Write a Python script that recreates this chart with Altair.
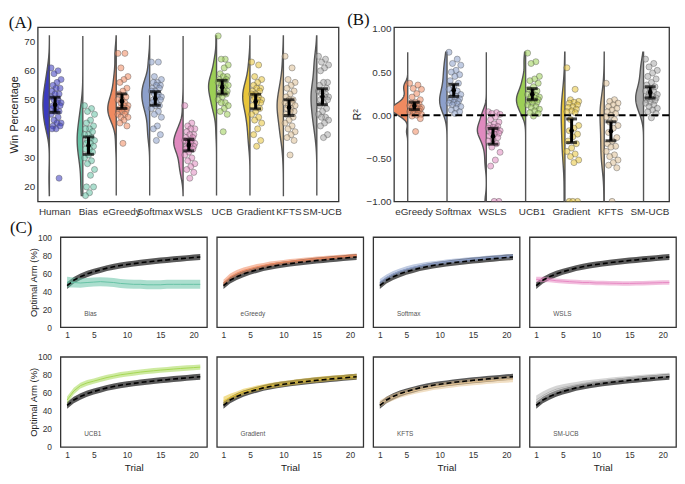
import altair as alt
import pandas as pd

# ---------------- Panel A data (Win Percentage) ----------------
models_a = ["Human", "Bias", "eGreedy", "Softmax", "WSLS", "UCB", "Gradient", "KFTS", "SM-UCB"]
colors_a = ["#3b3bbf", "#66c2a5", "#f08a60", "#8da0cb", "#e08abf", "#9ccf55", "#e8c53a", "#dcc096", "#a9a9a9"]

win_human = [61, 60, 59, 57, 56, 55, 54, 54, 53, 52, 52, 51, 50, 50, 49, 49, 48, 48, 47, 47, 46, 46, 45, 44, 43, 42, 42, 41, 41, 40, 40, 23]
win_bias = [48, 47, 46, 45, 43, 42, 41, 40, 40, 39, 38, 38, 37, 36, 36, 35, 35, 34, 33, 33, 32, 31, 30, 29, 28, 26, 24, 20, 20, 18, 17]
win_egreedy = [66, 66, 61, 58, 57, 56, 54, 53, 52, 51, 50, 50, 49, 49, 48, 48, 47, 47, 47, 46, 46, 46, 45, 45, 44, 44, 43, 42, 41, 35]
win_softmax = [63, 63, 58, 57, 56, 56, 55, 55, 54, 54, 53, 53, 52, 52, 51, 51, 50, 50, 49, 49, 48, 48, 47, 46, 45, 44, 41, 40, 38, 36]
win_wsls = [48, 42, 41, 40, 40, 39, 38, 38, 37, 37, 36, 36, 36, 35, 35, 35, 34, 34, 34, 33, 33, 32, 31, 30, 29, 28, 27, 26, 25, 23]
win_ucb = [72, 64, 64, 62, 61, 59, 58, 58, 57, 57, 56, 56, 55, 55, 55, 54, 54, 53, 53, 52, 52, 51, 50, 49, 49, 48, 47, 46, 45, 39]
win_gradient = [63, 62, 58, 57, 56, 55, 54, 54, 53, 53, 52, 52, 51, 51, 50, 50, 50, 49, 49, 48, 47, 46, 45, 44, 43, 42, 40, 38, 36, 34]
win_kfts = [65, 61, 57, 56, 55, 54, 53, 52, 51, 50, 50, 49, 49, 48, 48, 47, 47, 46, 46, 45, 44, 43, 42, 41, 40, 39, 38, 37, 36, 31]
win_smucb = [65, 64, 63, 62, 61, 60, 56, 56, 55, 54, 53, 53, 52, 52, 51, 51, 50, 50, 49, 48, 47, 46, 45, 44, 44, 43, 42, 41, 38, 37]
win_values = [win_human, win_bias, win_egreedy, win_softmax, win_wsls, win_ucb, win_gradient, win_kfts, win_smucb]

# ---------------- Panel B data (R^2) ----------------
models_b = ["eGreedy", "Softmax", "WSLS", "UCB1", "Gradient", "KFTS", "SM-UCB"]
colors_b = ["#f08a60", "#8da0cb", "#e08abf", "#9ccf55", "#e8c53a", "#dcc096", "#a9a9a9"]

r2_egreedy = [0.37, 0.35, 0.31, 0.30, 0.25, 0.21, 0.18, 0.15, 0.14, 0.13, 0.12, 0.11, 0.10, 0.10, 0.09, 0.08, 0.08, 0.07, 0.07, 0.06, 0.05, 0.05, 0.04, 0.03, 0.02, 0.01, 0.00, -0.01, -0.04, -0.19]
r2_softmax = [0.73, 0.65, 0.60, 0.58, 0.52, 0.50, 0.47, 0.45, 0.40, 0.37, 0.33, 0.30, 0.28, 0.26, 0.24, 0.22, 0.20, 0.19, 0.18, 0.17, 0.16, 0.15, 0.14, 0.13, 0.12, 0.10, 0.08, 0.06, 0.04, 0.02]
r2_wsls = [0.04, 0.03, 0.02, 0.01, -0.02, -0.05, -0.08, -0.10, -0.12, -0.13, -0.14, -0.15, -0.16, -0.17, -0.18, -0.19, -0.20, -0.21, -0.22, -0.24, -0.26, -0.28, -0.30, -0.33, -0.37, -0.43, -0.52, -0.59, -1.0, -1.0]
r2_ucb1 = [0.72, 0.62, 0.60, 0.45, 0.42, 0.40, 0.37, 0.33, 0.30, 0.28, 0.26, 0.24, 0.23, 0.22, 0.21, 0.20, 0.19, 0.18, 0.17, 0.16, 0.15, 0.14, 0.12, 0.10, 0.09, 0.07, 0.05, 0.03, 0.02, -0.01]
r2_gradient = [0.55, 0.30, 0.18, 0.16, 0.15, 0.14, 0.12, 0.10, 0.09, 0.07, 0.05, 0.04, 0.03, -0.05, -0.12, -0.15, -0.18, -0.22, -0.25, -0.30, -0.33, -0.38, -0.42, -0.45, -0.48, -0.52, -0.55, -1.0, -1.0, -1.0]
r2_kfts = [0.37, 0.18, 0.16, 0.14, 0.12, 0.10, 0.08, 0.06, 0.04, 0.02, 0.00, -0.02, -0.05, -0.08, -0.12, -0.15, -0.20, -0.26, -0.30, -0.33, -0.36, -0.37, -0.42, -0.46, -0.48, -0.52, -0.55, -0.58, -0.61, -1.0]
r2_smucb = [0.65, 0.60, 0.56, 0.52, 0.49, 0.45, 0.42, 0.38, 0.35, 0.33, 0.30, 0.28, 0.27, 0.25, 0.24, 0.22, 0.21, 0.20, 0.19, 0.18, 0.17, 0.15, 0.14, 0.12, 0.10, 0.08, 0.06, 0.04, 0.02, -0.03]
r2_values = [r2_egreedy, r2_softmax, r2_wsls, r2_ucb1, r2_gradient, r2_kfts, r2_smucb]

# ---------------- Panel C data (Optimal arm %) ----------------
trials = list(range(1, 22))
human_mean = [46, 52, 56, 59, 61.5, 63.5, 65.5, 67, 68.5, 69.5, 70.5, 71.5, 72.3, 73.1, 73.9, 74.6, 75.3, 76, 76.6, 77.2, 77.8]
human_err = [3.8, 3.7, 3.6, 3.5, 3.4, 3.3, 3.3, 3.3, 3.3, 3.3, 3.3, 3.3, 3.3, 3.3, 3.3, 3.3, 3.3, 3.3, 3.3, 3.3, 3.3]

curve_models = ["Bias", "eGreedy", "Softmax", "WSLS", "UCB1", "Gradient", "KFTS", "SM-UCB"]
curve_colors = ["#66c2a5", "#f08a60", "#8da0cb", "#e78ac3", "#a6d854", "#e8c53a", "#e5c494", "#b3b3b3"]

bias_mean = [50, 49.5, 49, 49.5, 50, 50.5, 50, 49.5, 48.5, 48, 47.5, 47.5, 47, 47, 47, 47.5, 47.5, 47.5, 47.5, 47.5, 47.5]
bias_err = [6, 5.5, 5.2, 5, 5, 5, 5, 5, 5, 5, 5, 5, 5, 5, 5, 5, 5, 5, 5, 5, 5]
egreedy_mean = [49, 56, 60, 63, 65, 67, 68.5, 70, 71, 72, 73, 73.8, 74.5, 75.2, 76, 76.6, 77.2, 77.8, 78.4, 79, 79.5]
egreedy_err = [3.6, 3.5, 3.3, 3.2, 3.0, 3.0, 2.8, 2.8, 2.7, 2.6, 2.6, 2.5, 2.5, 2.5, 2.4, 2.4, 2.4, 2.3, 2.3, 2.3, 2.3]
softmax_mean = [50, 55, 59, 62, 64.5, 66.5, 68, 69.5, 70.5, 71.5, 72.5, 73.3, 74, 74.8, 75.5, 76.2, 76.8, 77.4, 78, 78.5, 79]
softmax_err = [3.5, 3.4, 3.2, 3.1, 3.0, 2.9, 2.8, 2.7, 2.6, 2.6, 2.5, 2.5, 2.4, 2.4, 2.4, 2.3, 2.3, 2.3, 2.3, 2.3, 2.3]
wsls_mean = [53, 53, 52.5, 51.5, 51, 50.5, 50, 49.5, 49.5, 49, 49, 48.8, 48.6, 48.5, 48.5, 48.6, 48.8, 49, 49.2, 49.4, 49.5]
wsls_err = [3.0, 2.8, 2.6, 2.5, 2.5, 2.5, 2.5, 2.5, 2.5, 2.5, 2.5, 2.5, 2.5, 2.5, 2.5, 2.5, 2.5, 2.5, 2.5, 2.5, 2.5]
ucb1_mean = [52, 62, 68, 71, 73, 75, 77, 78.5, 80, 81, 82, 83, 83.8, 84.5, 85.2, 85.8, 86.4, 87, 87.5, 88, 88.5]
ucb1_err = [4.0, 3.6, 3.3, 3.2, 3.0, 3.0, 3.0, 3.0, 3.0, 3.0, 3.0, 3.0, 3.0, 3.0, 3.0, 3.0, 3.0, 3.0, 3.0, 3.0, 3.0]
gradient_mean = [51, 55, 58, 61, 63, 65, 66.5, 68, 69, 70, 71, 72, 73, 73.8, 74.6, 75.3, 76, 76.6, 77.2, 77.7, 78.2]
gradient_err = [4.5, 4.0, 3.6, 3.4, 3.2, 3.0, 3.0, 3.0, 3.0, 3.0, 3.0, 3.0, 3.0, 3.0, 3.0, 3.0, 3.0, 3.0, 3.0, 3.0, 3.0]
kfts_mean = [48, 52, 55, 58, 60, 62, 63.5, 65, 66.5, 67.5, 68.5, 69.5, 70.5, 71.2, 72, 72.6, 73.2, 73.8, 74.3, 74.8, 75.2]
kfts_err = [3.8, 3.7, 3.6, 3.6, 3.5, 3.5, 3.5, 3.5, 3.5, 3.5, 3.5, 3.5, 3.5, 3.5, 3.5, 3.5, 3.5, 3.5, 3.5, 3.5, 3.5]
smucb_mean = [52, 57, 61, 64, 66, 67.5, 69, 70.3, 71.4, 72.4, 73.3, 74.1, 74.9, 75.6, 76.3, 77, 77.6, 78.2, 78.7, 79.2, 79.7]
smucb_err = [5.0, 4.6, 4.2, 3.8, 3.5, 3.3, 3.1, 3.0, 2.9, 2.8, 2.7, 2.6, 2.6, 2.5, 2.5, 2.5, 2.5, 2.5, 2.5, 2.5, 2.5]
curve_means = [bias_mean, egreedy_mean, softmax_mean, wsls_mean, ucb1_mean, gradient_mean, kfts_mean, smucb_mean]
curve_errs = [bias_err, egreedy_err, softmax_err, wsls_err, ucb1_err, gradient_err, kfts_err, smucb_err]

FONT = "Liberation Sans"
C_W, C_H = 148, 91


def raincloud(models, colors, values, ydomain, yticks, yformat, ytitle, kscale, xfont):
    rows = []
    for i, (m, vals) in enumerate(zip(models, values)):
        for j, v in enumerate(vals):
            rows.append({"model": m, "i": i, "j": j, "value": v, "color": colors[i]})
    df = pd.DataFrame(rows)
    n = len(models)
    names = "[" + ",".join("'%s'" % m for m in models) + "]"
    xscale = alt.Scale(domain=[-0.5, n - 0.5], nice=False, zero=False)
    xaxis = alt.Axis(values=list(range(n)), labelExpr=names + "[datum.value]", title=None,
                     labelFontSize=xfont, labelPadding=5, labelColor="#333", labelOverlap=False)
    yscale = alt.Scale(domain=ydomain, nice=False, zero=False)
    yaxis = alt.Axis(values=yticks, format=yformat, title=ytitle, labelFontSize=10,
                     titleFontSize=11, labelPadding=3, titlePadding=4, labelOverlap=False)
    base = alt.Chart(df)

    violin = base.transform_density(
        "value", groupby=["model", "i", "color"], as_=["value", "density"]
    ).transform_calculate(
        xl="datum.i - 0.15 - datum.density * %f" % kscale,
        xr="datum.i - 0.15",
    ).mark_area(orient="horizontal", stroke="#555", strokeWidth=1.4, clip=True).encode(
        y=alt.Y("value:Q", scale=yscale, axis=yaxis),
        x=alt.X("xl:Q", scale=xscale, axis=xaxis),
        x2="xr:Q",
        color=alt.Color("color:N", scale=None),
        detail="model:N",
    )

    pts = base.transform_calculate(
        xj="datum.i - 0.10 + 0.30 * (((datum.j * 7) % 11) / 10)"
    ).mark_circle(size=38, fillOpacity=0.55, stroke="#555", strokeWidth=0.6, strokeOpacity=0.7, clip=True).encode(
        x=alt.X("xj:Q", scale=xscale, axis=xaxis),
        y=alt.Y("value:Q", scale=yscale, axis=yaxis),
        fill=alt.Fill("color:N", scale=None),
    )

    agg = base.transform_aggregate(
        mean="mean(value)", sem="stderr(value)", groupby=["i"]
    ).transform_calculate(
        lo="datum.mean - 1.96 * datum.sem",
        hi="datum.mean + 1.96 * datum.sem",
        xe="datum.i + 0.02",
    )
    bar = agg.mark_rule(color="black", strokeWidth=3).encode(
        x=alt.X("xe:Q", scale=xscale, axis=xaxis),
        y=alt.Y("lo:Q", scale=yscale, axis=yaxis), y2="hi:Q")
    cap_lo = agg.mark_tick(color="black", orient="horizontal", size=11, thickness=3).encode(
        x=alt.X("xe:Q", scale=xscale, axis=xaxis), y=alt.Y("lo:Q", scale=yscale, axis=yaxis))
    cap_hi = agg.mark_tick(color="black", orient="horizontal", size=11, thickness=3).encode(
        x=alt.X("xe:Q", scale=xscale, axis=xaxis), y=alt.Y("hi:Q", scale=yscale, axis=yaxis))
    dot = agg.mark_circle(color="black", size=22, opacity=1).encode(
        x=alt.X("xe:Q", scale=xscale, axis=xaxis), y=alt.Y("mean:Q", scale=yscale, axis=yaxis))

    return [violin, pts, bar, cap_lo, cap_hi, dot]


layers_a = raincloud(models_a, colors_a, win_values, [15, 75],
                     [20, 30, 40, 50, 60, 70], "d", "Win Percentage", 3.8, 10)
chart_a = alt.layer(*layers_a).properties(
    width=304, height=176, title=alt.Title("(A)", anchor="start", offset=-5))

layers_b = raincloud(models_b, colors_b, r2_values, [-1.0, 1.02],
                     [-1.0, -0.75, -0.5, -0.25, 0.0, 0.25, 0.5, 0.75, 1.0], ".2f", "R²", 0.095, 10)
zero_line = alt.Chart(pd.DataFrame({"z": [0]})).mark_rule(
    color="black", strokeDash=[7, 4], strokeWidth=2).encode(y=alt.Y("z:Q"))
chart_b = alt.layer(*layers_b, zero_line).properties(
    width=278, height=176, title=alt.Title("(B)", anchor="start", offset=-5, dx=-4))

c_yscale = alt.Scale(domain=[0, 100], nice=False)


def curve_panel(idx, show_xtitle):
    name = curve_models[idx]
    color = curve_colors[idx]
    mean = curve_means[idx]
    err = curve_errs[idx]
    hdf = pd.DataFrame({"trial": trials, "mean": human_mean,
                        "lo": [m - e for m, e in zip(human_mean, human_err)],
                        "hi": [m + e for m, e in zip(human_mean, human_err)]})
    mdf = pd.DataFrame({"trial": trials, "mean": mean,
                        "lo": [m - e for m, e in zip(mean, err)],
                        "hi": [m + e for m, e in zip(mean, err)]})
    xscale = alt.Scale(domain=[0, 22], nice=False, zero=False)
    xaxis = alt.Axis(values=[1, 5, 10, 15, 20], title="Trial" if show_xtitle else None,
                     labelFontSize=8.5, titleFontSize=10, labelPadding=4, titlePadding=3)
    x = alt.X("trial:Q", scale=xscale, axis=xaxis)
    hb_ = alt.Chart(hdf).mark_area(color="#3d3d3d", opacity=0.85).encode(
        x=x, y=alt.Y("lo:Q", scale=c_yscale, axis=None), y2="hi:Q")
    mb = alt.Chart(mdf).mark_area(color=color, opacity=0.55).encode(
        x=x, y=alt.Y("lo:Q", scale=c_yscale, axis=None), y2="hi:Q")
    ml = alt.Chart(mdf).mark_line(color=color, strokeWidth=1).encode(
        x=x, y=alt.Y("mean:Q", scale=c_yscale, axis=None))
    hl = alt.Chart(hdf).mark_line(color="black", strokeWidth=1.6, strokeDash=[5, 3]).encode(
        x=x, y=alt.Y("mean:Q", scale=c_yscale, axis=None))
    lab = alt.Chart(pd.DataFrame({"t": [name]})).mark_text(
        align="left", baseline="middle", fontSize=6.5, font=FONT, color="#555").encode(
        x=alt.value(24), y=alt.value(C_H - 13), text="t:N")
    return alt.layer(hb_, mb, ml, hl, lab).properties(width=C_W, height=C_H)


def axis_holder():
    # narrow, frameless view that only carries the shared y axis of a row of panel C
    yaxis = alt.Axis(orient="right", values=[0, 20, 40, 60, 80, 100], title="Optimal Arm (%)",
                     labelAlign="right", labelPadding=13, labelFontSize=8.5,
                     titleFontSize=9.5, titleAngle=270, titleX=0, titleBaseline="bottom")
    return alt.Chart(pd.DataFrame({"v": human_mean})).mark_point(opacity=0).encode(
        y=alt.Y("v:Q", scale=c_yscale, axis=yaxis)
    ).properties(width=1, height=C_H, view=alt.ViewBackground(strokeOpacity=0))


row1 = alt.hconcat(axis_holder(), *[curve_panel(k, False) for k in range(4)], spacing=8)
row2 = alt.hconcat(axis_holder(), *[curve_panel(k, True) for k in range(4, 8)], spacing=8)
panel_c = alt.vconcat(row1, row2, spacing=12,
                      title=alt.Title("(C)", anchor="start", offset=-4, dx=-19))

top = alt.hconcat(chart_a, chart_b, spacing=4)

chart = alt.concat(top, panel_c, columns=1, spacing=2, align="none").properties(padding=0).configure_view(
    stroke="#333", strokeWidth=1.3
).configure_axis(
    labelFont=FONT, titleFont=FONT, labelColor="#333", titleColor="#222",
    titleFontWeight="normal", grid=False, ticks=False, domain=False
).configure_title(
    font="Liberation Serif", fontSize=17, fontWeight="normal", color="#111"
)

chart.save("out.html", embed_options={"renderer": "svg", "actions": False})
